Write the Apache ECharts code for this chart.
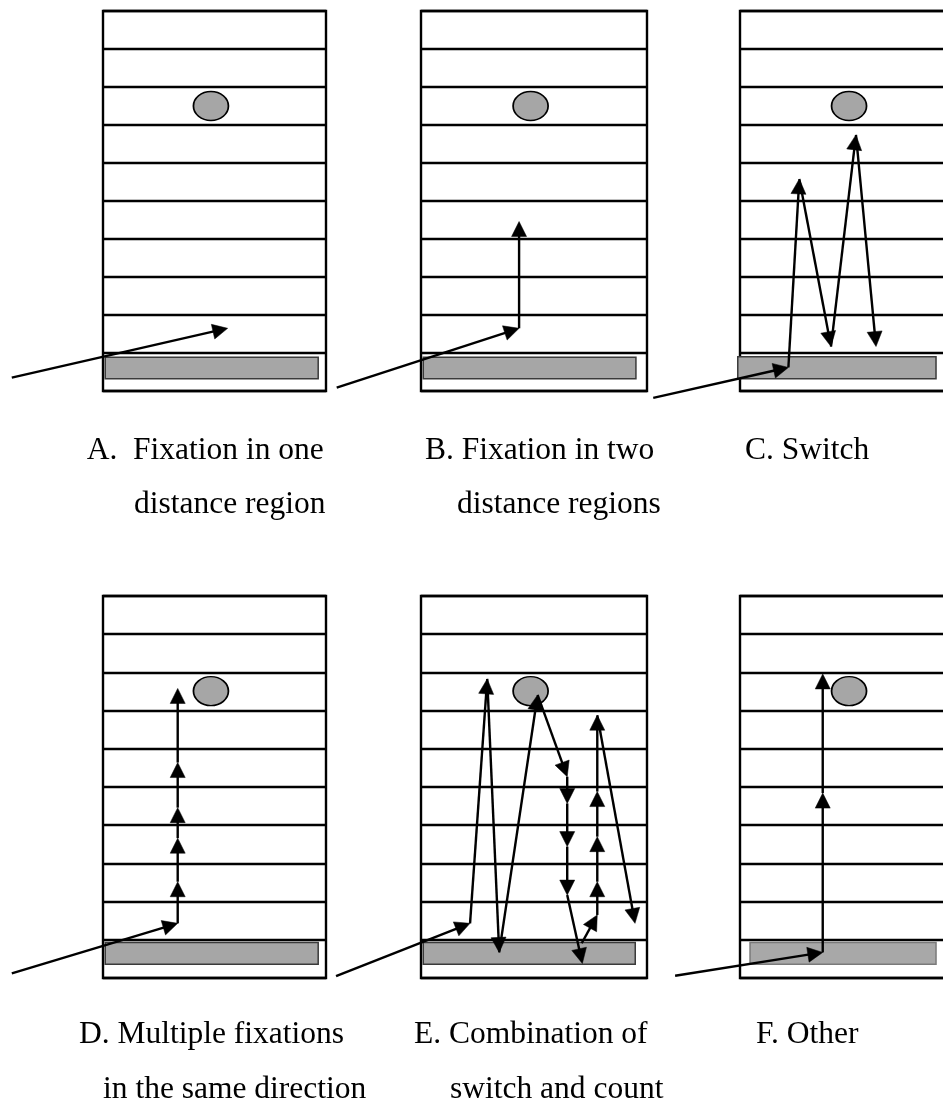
<!DOCTYPE html>
<html>
<head>
<meta charset="utf-8">
<script src="https://cdn.jsdelivr.net/npm/echarts@6/dist/echarts.min.js"></script>
<style>
html,body{margin:0;padding:0;background:#fff;overflow:hidden;}
#chart{width:1000px;height:1106px;}
</style>
</head>
<body>
<div id="chart"></div>
<script>
// ---------- DATA (panel units: x 0..10 across the box, y 0..10 rows from bottom) ----------
const panelIds = ['A', 'B', 'C', 'D', 'E', 'F'];
const captionLine1 = ['A.  Fixation in one', 'B. Fixation in two', 'C. Switch',
                      'D. Multiple fixations', 'E. Combination of', 'F. Other'];
const captionLine2 = ['distance region', 'distance regions', '',
                      'in the same direction', 'switch and count', ''];
const rowCount = 10;
// target (ellipse) position per panel [x, y]
const targetPos = [[4.84, 7.5], [4.85, 7.5], [4.89, 7.5], [4.84, 7.51], [4.85, 7.51], [4.89, 7.51]];
// gray bar per panel [x0, x1, y0, y1]
const barExtent = [[0.10, 9.65, 0.32, 0.89], [0.10, 9.51, 0.32, 0.89], [-0.10, 8.79, 0.32, 0.90],
                   [0.10, 9.65, 0.36, 0.93], [0.10, 9.48, 0.36, 0.93], [0.45, 8.79, 0.36, 0.93]];
// gaze paths: each consecutive pair of points is an arrow
const pathA = [[-4.09, 0.35], [5.59, 1.65]];
const pathB = [[-3.73, 0.09], [4.34, 1.65], [4.34, 4.46]];
const pathC = [[-3.89, -0.18], [2.17, 0.62], [2.66, 5.58], [4.08, 1.17], [5.20, 6.74], [6.10, 1.17]];
const pathD = [[-4.09, 0.12], [3.35, 1.43], [3.35, 2.52], [3.35, 3.66], [3.35, 4.46], [3.35, 5.64], [3.35, 7.58]];
const pathE1 = [[-3.76, 0.05], [2.17, 1.43], [2.93, 7.83], [3.46, 0.67], [5.16, 7.41], [6.47, 5.27],
                [6.47, 4.57], [6.47, 3.44], [6.47, 2.17], [7.14, 0.38]];
const pathE2 = [[7.11, 0.91], [7.80, 1.65], [7.80, 2.52], [7.80, 3.70], [7.80, 4.88], [7.80, 6.88], [9.47, 1.43]];
const pathF = [[-2.91, 0.06], [3.71, 0.67], [3.71, 4.84], [3.71, 7.96]];
const panelPaths = [[pathA], [pathB], [pathC], [pathD], [pathE1, pathE2], [pathF]];

// ---------- LAYOUT ----------
const boxLeft = [103, 421, 740, 103, 421, 740];
const boxWidth = [223, 226, 223, 223, 226, 223];
const boxTop = [11, 11, 11, 596, 596, 596];
const boxHeight = [380, 380, 380, 382, 382, 382];
const capX1 = [86.7, 425, 745, 79, 414, 756];
const capX2 = [134, 457, 0, 103, 450, 0];
const capY1 = [453, 453, 453, 1037, 1037, 1037];
const capY2 = [507, 507, 507, 1092, 1092, 1092];

function segmentsOf(paths) {
  const segs = [];
  paths.forEach(p => {
    for (let i = 0; i < p.length - 1; i++) segs.push([p[i][0], p[i][1], p[i + 1][0], p[i + 1][1]]);
  });
  return segs;
}

function renderArrow(params, api) {
  const p1 = api.coord([api.value(0), api.value(1)]);
  const p2 = api.coord([api.value(2), api.value(3)]);
  const dx = p2[0] - p1[0], dy = p2[1] - p1[1];
  const len = Math.sqrt(dx * dx + dy * dy);
  const ux = dx / len, uy = dy / len;
  const hl = 15, hw = 7.5;
  const bx = p2[0] - ux * hl, by = p2[1] - uy * hl;
  return {
    type: 'group',
    children: [
      { type: 'line', shape: { x1: p1[0], y1: p1[1], x2: bx + ux * 2, y2: by + uy * 2 },
        style: { stroke: '#000', lineWidth: 2.4 } },
      { type: 'polygon',
        shape: { points: [[p2[0], p2[1]], [bx - uy * hw, by + ux * hw], [bx + uy * hw, by - ux * hw]] },
        style: { fill: '#000', stroke: '#000', lineWidth: 0.5 } }
    ]
  };
}

const grids = [], xAxes = [], yAxes = [], series = [], graphics = [];
panelIds.forEach((id, i) => {
  grids.push({ left: boxLeft[i], top: boxTop[i], width: boxWidth[i], height: boxHeight[i],
               outerBoundsMode: 'none',
               show: true, borderColor: '#000', borderWidth: 2.4, backgroundColor: 'transparent', containLabel: false });
  xAxes.push({ gridIndex: i, type: 'value', min: 0, max: 10, show: true,
               axisLine: { show: false }, axisTick: { show: false }, axisLabel: { show: false }, splitLine: { show: false } });
  yAxes.push({ gridIndex: i, type: 'value', min: 0, max: rowCount, interval: 1, show: true,
               axisLine: { show: false }, axisTick: { show: false }, axisLabel: { show: false },
               splitLine: { show: true, lineStyle: { color: '#000', width: 2.4 } } });
  series.push({
    type: 'custom', name: 'bar ' + id, xAxisIndex: i, yAxisIndex: i, clip: false, silent: true, z: 2,
    renderItem: function (params, api) {
      const a = api.coord([api.value(0), api.value(3)]);
      const b = api.coord([api.value(1), api.value(2)]);
      return { type: 'rect', shape: { x: a[0], y: a[1], width: b[0] - a[0], height: b[1] - a[1] },
               style: { fill: id === 'F' ? '#a8a8a8' : '#a6a6a6', stroke: id === 'F' ? '#7a7a7a' : '#3a3a3a', lineWidth: 1.5 } };
    },
    data: [barExtent[i]]
  });
  series.push({
    type: 'scatter', name: 'target ' + id, xAxisIndex: i, yAxisIndex: i, silent: true, z: 3,
    symbol: 'circle', symbolSize: [35, 29],
    itemStyle: { color: '#a6a6a6', borderColor: '#000', borderWidth: 1.6, opacity: 1 },
    data: [targetPos[i]]
  });
  series.push({
    type: 'custom', name: 'gaze ' + id, xAxisIndex: i, yAxisIndex: i, clip: false, silent: true, z: 4,
    renderItem: renderArrow,
    data: segmentsOf(panelPaths[i])
  });
  const font = '31.5px "Liberation Serif", "Times New Roman", serif';
  graphics.push({ type: 'text', left: capX1[i], top: capY1[i] - 18, silent: true,
                  style: { text: captionLine1[i], font: font, fill: '#000' } });
  if (captionLine2[i]) {
    graphics.push({ type: 'text', left: capX2[i], top: capY2[i] - 18, silent: true,
                    style: { text: captionLine2[i], font: font, fill: '#000' } });
  }
});

const chart = echarts.init(document.getElementById('chart'), null, { renderer: 'canvas' });
chart.setOption({
  backgroundColor: '#fff',
  animation: false,
  grid: grids,
  xAxis: xAxes,
  yAxis: yAxes,
  series: series,
  graphic: graphics
});
</script>
</body>
</html>
